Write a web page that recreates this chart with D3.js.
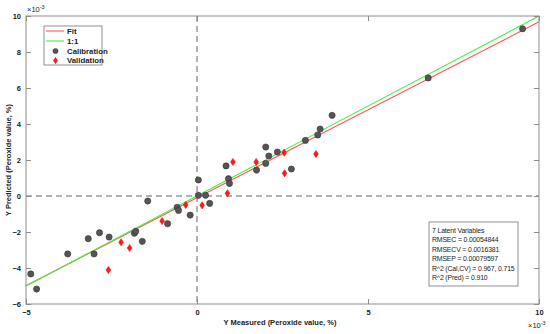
<!DOCTYPE html>
<html>
<head>
<meta charset="utf-8">
<script src="https://cdn.jsdelivr.net/npm/d3@7"></script>
<style>
  body { margin: 0; background: #fff; }
  svg text { font-family: "Liberation Sans", Arial, sans-serif; }
</style>
</head>
<body>
<div id="chart"></div>
<script>
// values in units of 1e-3
var calX = [-4.86, -4.69, -3.78, -3.18, -3.01, -2.85, -2.57, -1.83, -1.79, -1.60, -1.44, -0.86, -0.58, -0.54, -0.20, 0.04, 0.04, 0.25, 0.37, 0.85, 0.92, 0.95, 1.74, 2.01, 2.01, 2.10, 2.35, 2.76, 3.17, 3.53, 3.60, 3.95, 6.76, 9.52];
var calY = [-4.33, -5.17, -3.22, -2.37, -3.22, -2.04, -2.28, -2.07, -1.96, -2.52, -0.28, -1.54, -0.63, -0.80, -1.06, 0.89, 0.04, 0.04, -0.41, 1.67, 0.96, 0.70, 1.44, 2.72, 1.81, 2.22, 2.44, 1.50, 3.09, 3.39, 3.72, 4.48, 6.56, 9.29];
var valX = [-2.59, -2.22, -1.97, -1.02, -0.33, 0.15, 0.89, 1.05, 1.73, 2.55, 2.56, 3.48];
var valY = [-4.11, -2.57, -2.89, -1.39, -0.50, -0.52, 0.15, 1.89, 1.89, 2.41, 1.26, 2.33];
var fitSlope = 0.977, fitIntercept = -0.095;
var xTicks = [-5, 0, 5, 10];
var yTicks = [-6, -4, -2, 0, 2, 4, 6, 8, 10];
var legendItems = ["Fit", "1:1", "Calibration", "Validation"];
var statsLines = ["7 Latent Variables", "RMSEC = 0.00054844", "RMSECV = 0.0016381", "RMSEP = 0.00079597", "R^2 (Cal,CV) = 0.967, 0.715", "R^2 (Pred) = 0.910"];

var W = 550, H = 334;
var m = {left: 26, right: 11, top: 16, bottom: 30};

var svg = d3.select("#chart").append("svg").attr("width", W).attr("height", H);

var x = d3.scaleLinear().domain([-5, 10]).range([m.left, W - m.right]);
var y = d3.scaleLinear().domain([-6, 10]).range([H - m.bottom, m.top]);

var axisCol = "#8c8c8c";

// zero lines
svg.append("line").attr("x1", x(0)).attr("x2", x(0)).attr("y1", y(10)).attr("y2", y(-6))
  .attr("stroke", "#666").attr("stroke-width", 1).attr("stroke-dasharray", "6,4");
svg.append("line").attr("x1", x(-5)).attr("x2", x(10)).attr("y1", y(0)).attr("y2", y(0))
  .attr("stroke", "#666").attr("stroke-width", 1).attr("stroke-dasharray", "6,4");

// fit and 1:1 lines
svg.append("line").attr("x1", x(-5)).attr("x2", x(10))
  .attr("y1", y(fitIntercept + fitSlope * -5)).attr("y2", y(fitIntercept + fitSlope * 10))
  .attr("stroke", "#ff5555").attr("stroke-width", 1.1);
svg.append("line").attr("x1", x(-5)).attr("x2", x(10)).attr("y1", y(-5)).attr("y2", y(10))
  .attr("stroke", "#44ee44").attr("stroke-width", 1.1);

// calibration points
svg.selectAll("circle.cal").data(calX).enter().append("circle")
  .attr("class", "cal")
  .attr("cx", function(d) { return x(d); })
  .attr("cy", function(d, i) { return y(calY[i]); })
  .attr("r", 3.1)
  .attr("fill", "#555").attr("stroke", "#333").attr("stroke-width", 0.6);

// validation points
var diamond = function(cx, cy) {
  return "M" + cx + "," + (cy - 3.6) + "L" + (cx + 2.4) + "," + cy + "L" + cx + "," + (cy + 3.6) + "L" + (cx - 2.4) + "," + cy + "Z";
};
svg.selectAll("path.val").data(valX).enter().append("path")
  .attr("class", "val")
  .attr("d", function(d, i) { return diamond(x(d), y(valY[i])); })
  .attr("fill", "#ff1a1a").attr("stroke", "#e00").attr("stroke-width", 0.5);

// axes box
svg.append("rect").attr("x", x(-5)).attr("y", y(10)).attr("width", x(10) - x(-5)).attr("height", y(-6) - y(10))
  .attr("fill", "none").attr("stroke", axisCol).attr("stroke-width", 1);

// ticks
var gx = svg.append("g").attr("transform", "translate(0," + y(-6) + ")")
  .call(d3.axisBottom(x).tickValues(xTicks).tickSize(-5).tickPadding(6).tickFormat(d3.format("d")));
var gy = svg.append("g").attr("transform", "translate(" + x(-5) + ",0)")
  .call(d3.axisLeft(y).tickValues(yTicks).tickSize(-5).tickPadding(5).tickFormat(d3.format("d")));
var gy2 = svg.append("g").attr("transform", "translate(" + x(10) + ",0)")
  .call(d3.axisRight(y).tickValues(yTicks).tickSize(-5).tickFormat(""));
var gx2 = svg.append("g").attr("transform", "translate(0," + y(10) + ")")
  .call(d3.axisTop(x).tickValues(xTicks).tickSize(-5).tickFormat(""));
[gx, gy, gy2, gx2].forEach(function(g) {
  g.select(".domain").remove();
  g.selectAll(".tick line").attr("stroke", axisCol);
  g.selectAll("text").attr("fill", "#222").attr("font-size", 7.5).attr("font-weight", "bold");
});

// exponent labels
var expo = function(px, py) {
  var t = svg.append("text").attr("x", px).attr("y", py).attr("font-size", 7.5).attr("fill", "#222");
  t.append("tspan").text("\u00d710");
  t.append("tspan").attr("dy", -3).attr("font-size", 5.5).text("-3");
};
expo(27, 12);
expo(528, 328);

// axis labels
svg.append("text").attr("x", 280).attr("y", 325).attr("text-anchor", "middle")
  .attr("font-size", 7.5).attr("font-weight", "bold").attr("fill", "#222")
  .text("Y Measured (Peroxide value, %)");
svg.append("text").attr("transform", "translate(11," + 160 + ") rotate(-90)").attr("text-anchor", "middle")
  .attr("font-size", 7.5).attr("font-weight", "bold").attr("fill", "#222")
  .text("Y Predicted (Peroxide value, %)");

// legend
var lg = svg.append("g").attr("transform", "translate(44,26)");
lg.append("rect").attr("width", 58).attr("height", 39).attr("fill", "#fff").attr("stroke", "#777").attr("stroke-width", 0.8);
lg.selectAll("text").data(legendItems).enter().append("text")
  .attr("x", 23).attr("y", function(d, i) { return 8 + i * 9.8; })
  .attr("font-size", 7.8).attr("font-weight", "bold").attr("fill", "#222")
  .text(function(d) { return d; });
lg.append("line").attr("x1", 2).attr("x2", 20).attr("y1", 5).attr("y2", 5).attr("stroke", "#ff5555").attr("stroke-width", 1.1);
lg.append("line").attr("x1", 2).attr("x2", 20).attr("y1", 15).attr("y2", 15).attr("stroke", "#44ee44").attr("stroke-width", 1.1);
lg.append("circle").attr("cx", 11.5).attr("cy", 25).attr("r", 2.6).attr("fill", "#555").attr("stroke", "#333").attr("stroke-width", 0.5);
lg.append("path").attr("d", diamond(11.5, 34.5)).attr("fill", "#ff1a1a");

// stats box
var sb = svg.append("g").attr("transform", "translate(429,222)");
sb.append("rect").attr("width", 89).attr("height", 64).attr("fill", "#fff").attr("stroke", "#777").attr("stroke-width", 0.8);
sb.selectAll("text").data(statsLines).enter().append("text")
  .attr("x", 3).attr("y", function(d, i) { return 11 + i * 9.4; })
  .attr("font-size", 6.9).attr("letter-spacing", -0.15).attr("fill", "#222")
  .text(function(d) { return d; });
</script>
</body>
</html>
